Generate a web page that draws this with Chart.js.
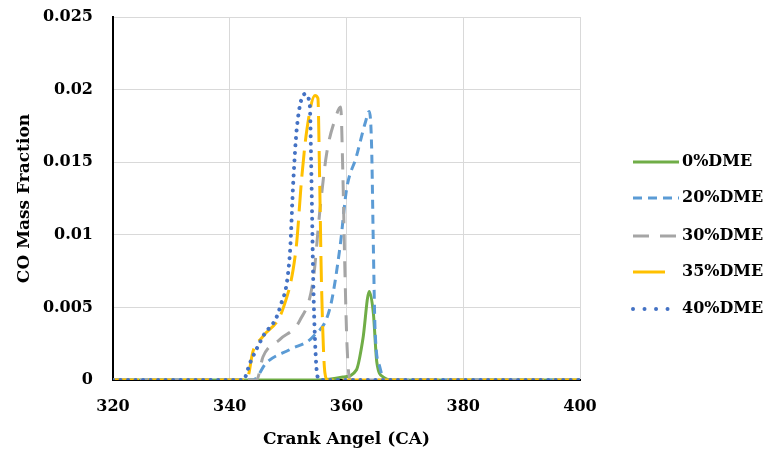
<!DOCTYPE html>
<html>
<head>
<meta charset="utf-8">
<script src="https://cdn.jsdelivr.net/npm/chart.js@4"></script>
<style>
  html, body { margin: 0; padding: 0; background: #fff; }
  #wrap { width: 769px; height: 454px; }
</style>
</head>
<body>
<div id="wrap"><canvas id="coChart" width="769" height="454"></canvas></div>
<script>
// Crank angle (x) and CO mass fraction (y) per blend
const seriesNames = ['0%DME', '20%DME', '30%DME', '35%DME', '40%DME'];

const dme0X = [320, 355, 359.4, 361.7, 362.8, 363.9, 364.6, 365.2, 366.3, 368, 400];
const dme0Y = [0, 0, 0.0002, 0.0007, 0.0028, 0.0061, 0.0046, 0.0012, 0.0002, 0, 0];

const dme20X = [320, 344.0, 346.3, 350.3, 354.3, 357.2, 358.9, 360.0, 361.7, 363.2, 363.9, 364.3, 364.6, 364.9, 365.7, 366.6, 400];
const dme20Y = [0, 0, 0.0012, 0.0021, 0.003, 0.005, 0.0092, 0.0131, 0.0154, 0.0177, 0.0185, 0.0161, 0.0092, 0.0034, 0.0009, 0, 0];

const dme30X = [320, 344.6, 345.7, 348.6, 352.0, 354.3, 355.4, 356.6, 358.0, 359.0, 359.4, 359.7, 360.1, 360.6, 400];
const dme30Y = [0, 0, 0.0016, 0.0028, 0.0041, 0.0069, 0.0115, 0.0156, 0.0179, 0.0188, 0.0138, 0.008, 0.0023, 0, 0];

const dme35X = [320, 342.9, 344.0, 345.7, 349.2, 351.4, 352.3, 353.2, 354.6, 355.1, 355.4, 355.7, 356.3, 356.8, 400];
const dme35Y = [0, 0, 0.002, 0.003, 0.005, 0.0092, 0.0138, 0.0172, 0.0196, 0.0194, 0.0138, 0.0069, 0.0005, 0, 0];

const dme40X = [320, 342.3, 343.5, 345.7, 348.6, 350.3, 350.9, 351.5, 352.9, 353.7, 354.0, 354.3, 354.6, 355.0, 355.5, 400];
const dme40Y = [0, 0, 0.0012, 0.003, 0.005, 0.0087, 0.0138, 0.0174, 0.0197, 0.019, 0.0138, 0.0069, 0.0028, 0.0003, 0, 0];

const xTicks = [320, 340, 360, 380, 400];
const yTicks = [0, 0.005, 0.01, 0.015, 0.02, 0.025];

const colors = ['#70AD47', '#5B9BD5', '#A5A5A5', '#FFC000', '#4472C4'];
const dashes = [[], [9, 6], [16, 11], [26, 9], [0.01, 7.5]];

const FONT = '"DejaVu Serif", "Liberation Serif", serif';

function toPoints(xs, ys) {
    return xs.map((x, i) => ({ x: x, y: ys[i] }));
}

const allX = [dme0X, dme20X, dme30X, dme35X, dme40X];
const allY = [dme0Y, dme20Y, dme30Y, dme35Y, dme40Y];

const datasets = seriesNames.map((name, i) => ({
    label: name,
    data: toPoints(allX[i], allY[i]),
    borderColor: colors[i],
    backgroundColor: colors[i],
    borderWidth: i === 4 ? 4 : 3,
    borderDash: dashes[i],
    borderCapStyle: i === 4 ? 'round' : 'butt',
    pointRadius: 0,
    cubicInterpolationMode: 'monotone',
    fill: false,
    order: 5 - i
}));

// legend with line samples on the right
const sideLegend = {
    id: 'sideLegend',
    afterDraw(chart) {
        const ctx = chart.ctx;
        const ys = [162, 198, 236, 272, 309];
        ctx.save();
        seriesNames.forEach((name, i) => {
            const y = ys[i];
            ctx.strokeStyle = colors[i];
            ctx.lineWidth = i === 4 ? 4 : 3;
            ctx.lineCap = i === 4 ? 'round' : 'butt';
            ctx.setLineDash(i === 4 ? [0.01, 11.5] : (i === 3 ? [32, 20] : dashes[i]));
            ctx.beginPath();
            ctx.moveTo(633, y);
            ctx.lineTo(679, y);
            ctx.stroke();
            ctx.setLineDash([]);
            ctx.fillStyle = '#000';
            ctx.font = 'bold 16px ' + FONT;
            ctx.textBaseline = 'middle';
            ctx.textAlign = 'left';
            ctx.fillText(name, 682, y);
        });
        ctx.restore();
    }
};

new Chart(document.getElementById('coChart'), {
    type: 'line',
    data: { datasets: datasets },
    options: {
        responsive: false,
        animation: false,
        layout: { padding: { left: 0, right: 189, top: 17, bottom: 0 } },
        plugins: {
            legend: { display: false },
            tooltip: { enabled: false }
        },
        scales: {
            x: {
                type: 'linear',
                min: 320,
                max: 400,
                afterBuildTicks: (axis) => { axis.ticks = xTicks.map(v => ({ value: v })); },
                ticks: {
                    color: '#000',
                    padding: 17,
                    maxRotation: 0,
                    font: { family: FONT, size: 16, weight: 'bold' }
                },
                grid: { color: '#D9D9D9', lineWidth: 1, drawTicks: false },
                border: { color: '#000', width: 2 },
                title: {
                    display: true,
                    text: 'Crank Angel (CA)',
                    color: '#000',
                    padding: { top: 8 },
                    font: { family: FONT, size: 17, weight: 'bold' }
                },
                afterFit: (axis) => {
                    axis.height = 74;
                    axis.paddingLeft = 0;
                    axis.paddingRight = 0;
                }
            },
            y: {
                min: 0,
                max: 0.025,
                afterBuildTicks: (axis) => { axis.ticks = yTicks.map(v => ({ value: v })); },
                ticks: {
                    color: '#000',
                    padding: 20,
                    font: { family: FONT, size: 16, weight: 'bold' },
                    callback: (v) => String(parseFloat(v.toFixed(3)))
                },
                grid: { color: '#D9D9D9', lineWidth: 1, drawTicks: false },
                border: { color: '#000', width: 2 },
                title: {
                    display: true,
                    text: 'CO Mass Fraction',
                    color: '#000',
                    padding: { top: 14, bottom: 0 },
                    font: { family: FONT, size: 17, weight: 'bold' }
                },
                afterFit: (axis) => {
                    axis.width = 113;
                    axis.paddingTop = 0;
                    axis.paddingBottom = 0;
                }
            }
        }
    },
    plugins: [sideLegend]
});
</script>
</body>
</html>
